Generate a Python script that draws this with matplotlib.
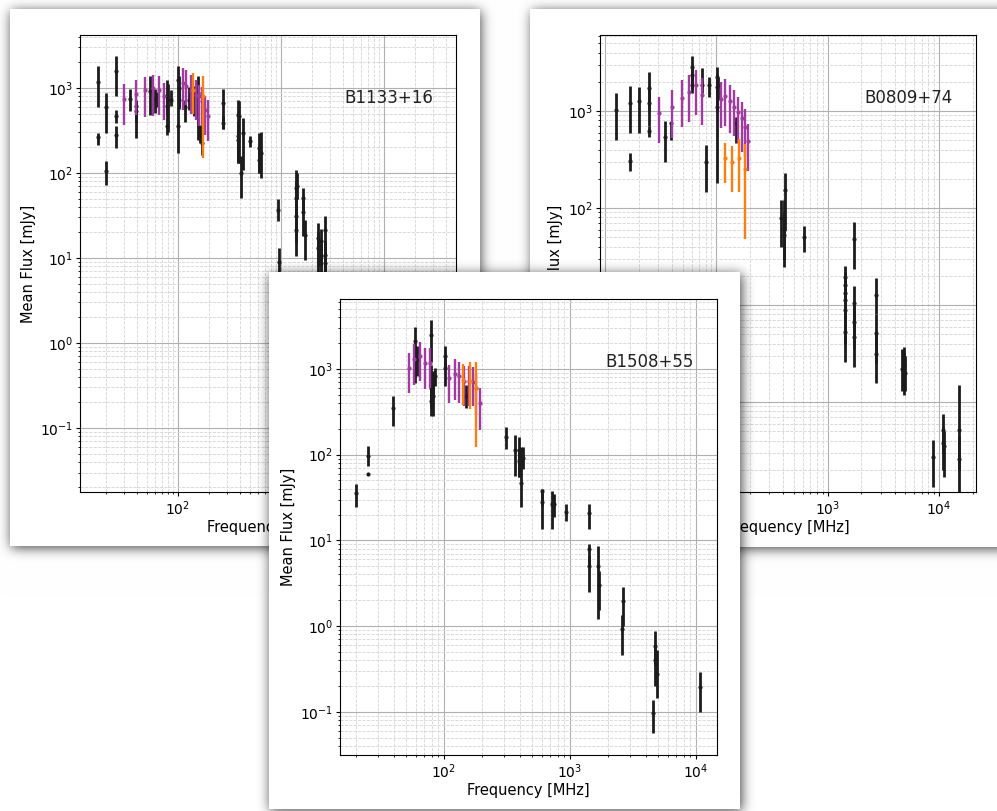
import math
import numpy as np
import matplotlib
matplotlib.use("Agg")
import matplotlib.pyplot as plt
from matplotlib.patches import Rectangle

# (frequency MHz, mean flux mJy, lower bound, upper bound)
b1133_lit = [
    (16.6, 1175, 598, 1800), (16.6, 263, 215, 296),
    (20, 593, 296, 873), (20, 105, 73, 137),
    (25, 1600, 798, 2400), (25, 473, 390, 556), (25, 282, 197, 354),
    (34, 750, 531, 973), (39, 608, 258, 730), (39, 531, 400, 700),
    (53.5, 914, 486, 1400), (59.8, 750, 508, 973), (62, 730, 600, 900),
    (77.6, 798, 500, 1250), (77.6, 608, 420, 800), (77.6, 354, 282, 430),
    (80.6, 730, 300, 1100), (85, 730, 608, 956),
    (100, 1250, 730, 1830), (100, 354, 172, 730),
    (103, 1000, 600, 1370), (103, 730, 560, 1000),
    (117, 600, 400, 730), (129, 730, 556, 1030), (144, 697, 464, 1065),
    (155, 873, 247, 1370), (165, 296, 225, 370), (171, 225, 164, 354),
    (272, 660, 330, 973), (275, 387, 330, 464),
    (380, 486, 131, 730), (380, 270, 140, 400), (380, 247, 131, 350),
    (394, 464, 131, 700), (409, 100, 51, 157), (431, 296, 109, 444),
    (500, 236, 202, 270), (607, 197, 100, 296), (607, 143, 100, 200),
    (635, 172, 87, 300), (929, 37, 27, 49), (964, 9.1, 5.8, 13.1),
    (1400, 67, 40, 109), (1400, 51, 30, 80), (1400, 31, 15, 50),
    (1400, 21.5, 10.5, 35), (1440, 70, 50, 100),
    (1624, 51, 35, 67), (1624, 35, 18, 51), (1722, 18.8, 9.6, 28),
    (2300, 17.2, 8, 26), (2300, 13.1, 5.8, 20),
    (2425, 15.7, 8, 22), (2425, 10.5, 6, 15),
    (2673, 21.5, 12, 31), (2673, 10.9, 6, 16), (2673, 8.7, 5.8, 12),
]
b1133_lofar = [
    (30, 750, 370, 1125), (39, 850, 486, 1250), (48, 956, 456, 1350),
    (57.6, 1000, 473, 1435), (66, 956, 486, 1400), (73.7, 798, 424, 1145),
    (111, 1145, 556, 1720), (120, 1065, 637, 1610), (135, 914, 499, 1435),
    (150, 835, 424, 1250), (160, 798, 354, 1095), (171, 697, 354, 1030),
    (183, 556, 282, 798), (196, 473, 236, 730),
]
b1133_extra = [(139, 956, 499, 1500), (177, 798, 150, 1400)]

b0809_lit = [
    (12.6, 1024, 502, 1520), (16.8, 1200, 589, 1810), (16.8, 305, 243, 366),
    (20, 1268, 589, 1754),
    (24.9, 1713, 1000, 2543), (24.9, 1200, 700, 1700), (24.9, 622, 544, 700),
    (34.5, 544, 296, 788), (39, 758, 502, 776),
    (60.8, 2865, 2000, 3690), (60.8, 2350, 1700, 2900), (60.8, 1853, 1520, 2300),
    (74.3, 1853, 1520, 2754), (80.7, 296, 147, 446), (85.9, 1853, 1383, 2260),
    (101, 2260, 1500, 2865), (101, 1782, 1000, 2400), (101, 1108, 180, 1700),
    (104, 1853, 1300, 2260), (150, 758, 464, 875),
    (378, 78, 40, 121), (405, 78, 40, 121), (405, 59, 30, 90), (405, 53, 24.8, 80),
    (413, 153, 60, 228), (608, 50, 35.5, 65), (1738, 47.5, 23.3, 71),
    (1423, 19.3, 12, 25), (1423, 16.1, 10, 22), (1423, 13.2, 8, 18),
    (1423, 11.3, 6, 16), (1423, 8.9, 4, 13), (1423, 5.3, 2.6, 9),
    (1727, 10.4, 5, 15.7), (1727, 6.7, 3.5, 10), (1727, 4.65, 2.31, 7),
    (2742, 12.7, 8, 18.8), (2742, 5.1, 2.5, 8), (2742, 3.13, 1.56, 5),
    (4842, 2.41, 1.5, 3.72), (4842, 1.97, 1.18, 3.3),
    (4650, 2.2, 1.3, 3.5), (5000, 2.0, 1.3, 3.0),
    (8900, 0.27, 0.134, 0.41),
    (10800, 0.51, 0.3, 0.76), (10800, 0.38, 0.2, 0.55), (11000, 0.35, 0.17, 0.5),
    (15000, 0.51, 0.2, 1.5), (15000, 0.26, 0.08, 0.45),
]
b0809_lofar = [
    (30.6, 946, 464, 1405), (39.6, 1108, 523, 1645), (48.8, 1352, 689, 2089),
    (57.2, 1581, 776, 2350), (65.6, 1853, 910, 2648), (74.3, 1463, 717, 2173),
    (109, 1331, 662, 2007), (120, 1439, 700, 2120), (133, 1268, 598, 1853),
    (145, 1108, 553, 1645), (157, 969, 464, 1405), (170, 840, 381, 1248),
    (181, 689, 338, 1040), (193, 494, 243, 729),
]
b0809_extra = [
    (120, 325, 180, 472), (139, 296, 145, 439),
    (160, 325, 145, 511), (179, 250, 47.5, 457),
]

b1508_lit = [
    (20.2, 35.5, 24.2, 46), (25.2, 96.4, 73.8, 126), (25.2, 59.0, 57.5, 60.6),
    (39.7, 352, 215, 481),
    (59.2, 2097, 1200, 3080), (59.2, 1343, 688, 1900), (61.7, 1284, 822, 1834),
    (79.3, 2505, 1200, 3750), (79.3, 822, 400, 1100), (79.3, 601, 350, 800),
    (79.3, 421, 282, 550), (81.7, 751, 500, 950), (81.7, 481, 282, 700),
    (85.8, 822, 629, 1040), (102, 1404, 1000, 1868), (102, 1027, 629, 1300),
    (151, 481, 352, 658), (313, 160, 115, 212), (370, 112, 56.5, 169),
    (396, 112, 55.5, 160), (396, 84.4, 55.5, 115),
    (412, 112, 80, 124), (412, 47.2, 24.2, 90), (425, 92, 67.5, 124),
    (606, 37.8, 25, 39.6), (606, 27.7, 13.6, 36), (719, 26.4, 13.6, 37.8),
    (750, 26.4, 18.5, 34.6), (925, 21.2, 16.9, 26.4), (1416, 20.6, 13.6, 26.4),
    (1416, 7.93, 5.07, 9.06), (1416, 4.98, 2.48, 6.5), (1660, 4.98, 1.22, 8.66),
    (1710, 3.05, 1.52, 4.44), (2656, 1.94, 1.0, 2.84), (2594, 0.93, 0.456, 1.33),
    (4603, 0.098, 0.056, 0.137), (4746, 0.58, 0.35, 0.875), (4746, 0.40, 0.2, 0.58),
    (4893, 0.279, 0.143, 0.52), (10690, 0.195, 0.1, 0.292),
]
b1508_lofar = [
    (53.3, 1027, 526, 1535), (58.5, 1306, 658, 1970), (65.2, 1430, 719, 2042),
    (71.5, 1175, 590, 1755), (77.9, 1175, 601, 1755), (109, 786, 396, 1123),
    (122, 883, 440, 1306), (133, 822, 403, 1196), (144, 719, 368, 1074),
    (158, 719, 368, 1074), (170, 700, 368, 1055), (181, 601, 294, 875),
    (192, 396, 194, 601),
]
b1508_extra = [(142, 751, 385, 1143), (160, 731, 337, 1196), (179, 601, 124, 1196)]

W, H = 997, 811
PURPLE = '#a03c9f'
ORANGE = '#ff7f0e'


def plot_series(ax, pts, color, lw, zorder):
    f, s, lo, hi = np.array(pts, dtype=float).T
    ax.errorbar(f, s, yerr=[s - lo, hi - s], fmt='.', color=color, ms=4,
                elinewidth=lw, capsize=0, zorder=zorder)


def draw_panel(rect, name, lit, lofar, extra, xlim, ylim):
    ax = fig.add_axes([rect[0] / W, 1 - rect[3] / H,
                       (rect[2] - rect[0]) / W, (rect[3] - rect[1]) / H])
    ax.set_xscale('log')
    ax.set_yscale('log')
    plot_series(ax, lit, '#1c1c1c', 2.0, 3)
    plot_series(ax, lofar, PURPLE, 1.7, 4)
    plot_series(ax, extra, ORANGE, 1.7, 5)
    ax.set_xlim(*xlim)
    ax.set_ylim(*ylim)
    ax.grid(True, which='major', color='#b0b0b0', lw=0.8)
    ax.grid(True, which='minor', color='#d4d4d4', lw=0.6, ls='--')
    ax.set_axisbelow(True)
    ax.tick_params(which='major', labelsize=10, length=2.6, pad=2.5)
    ax.tick_params(which='minor', length=1.6)
    ax.set_xlabel('Frequency [MHz]', fontsize=10.5, labelpad=2)
    ax.set_ylabel('Mean Flux [mJy]', fontsize=10.5, labelpad=3)
    ax.text(0.703, 0.862, name, transform=ax.transAxes, fontsize=12,
            ha='left', va='center', color='#222222')
    return ax


def soft_edge(n, a, b, s):
    t = np.arange(n) + 0.5
    erf = np.vectorize(math.erf)
    return 0.5 * (erf((t - a) / (s * math.sqrt(2))) - erf((t - b) / (s * math.sqrt(2))))


def shadow(card, s=6.0, peak=0.72, dx=1, dy=2):
    x0, y0, x1, y1 = card
    fx = soft_edge(W, x0 + dx, x1 + dx, s)
    fy = soft_edge(H, y0 + dy, y1 + dy, s)
    return peak * np.outer(fy, fx)


# card outlines in pixels: left, top, right, bottom
card1 = (10, 9, 480, 546)
card2 = (530, 9, 1012, 547)
card3 = (269, 272, 740, 809)

fig = plt.figure(figsize=(W / 100, H / 100), dpi=100)

bg = fig.add_axes([0, 0, 1, 1], zorder=0)
a12 = 1 - (1 - shadow(card1)) * (1 - shadow(card2))
bg.imshow(np.dstack([1 - a12] * 3), extent=(0, W, H, 0), aspect='auto',
          interpolation='nearest')
for c in (card1, card2):
    bg.add_patch(Rectangle((c[0], c[1]), c[2] - c[0], c[3] - c[1],
                           facecolor='white', edgecolor='none'))
bg.set_xlim(0, W)
bg.set_ylim(H, 0)
bg.set_axis_off()

ax1 = draw_panel((80, 35, 456, 492), 'B1133+16', b1133_lit, b1133_lofar,
                 b1133_extra, (11.2, 5.0e4), (0.0177, 4200))
ax1.set_zorder(1)
ax2 = draw_panel((600, 35, 976, 492), 'B0809+74', b0809_lit, b0809_lofar,
                 b0809_extra, (9.0, 2.15e4), (0.118, 6080))
ax2.set_zorder(1)

top = fig.add_axes([0, 0, 1, 1], zorder=2)
a3 = shadow(card3)
rgba = np.zeros((H, W, 4))
rgba[..., 3] = a3
top.imshow(rgba, extent=(0, W, H, 0), aspect='auto', interpolation='nearest')
top.add_patch(Rectangle((card3[0], card3[1]), card3[2] - card3[0],
                        card3[3] - card3[1], facecolor='white', edgecolor='none'))
top.set_xlim(0, W)
top.set_ylim(H, 0)
top.set_axis_off()

ax3 = draw_panel((340, 299, 717, 755), 'B1508+55', b1508_lit, b1508_lofar,
                 b1508_extra, (15.0, 1.47e4), (0.0313, 6560))
ax3.set_zorder(3)

fig.savefig('out.png', dpi=100)
